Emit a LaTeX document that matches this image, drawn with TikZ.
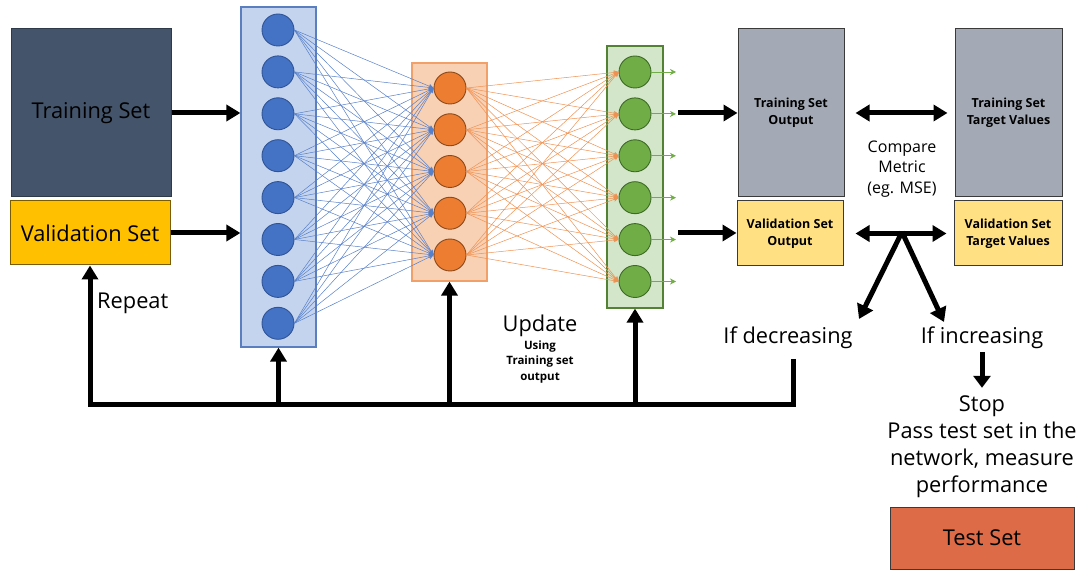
\documentclass[tikz,border=0pt]{standalone}
\usepackage{fontspec}
\setmainfont{Open Sans}
\usetikzlibrary{arrows.meta}
\definecolor{slate}{HTML}{44546A}
\definecolor{slateb}{HTML}{2E3A4A}
\definecolor{valc}{HTML}{FFC000}
\definecolor{valb}{HTML}{7A5C00}
\definecolor{lonef}{HTML}{C4D4EE}
\definecolor{loneb}{HTML}{5A7EC0}
\definecolor{nblue}{HTML}{4472C4}
\definecolor{nblueb}{HTML}{2F5597}
\definecolor{ltwof}{HTML}{F8D0B4}
\definecolor{ltwob}{HTML}{F2A06A}
\definecolor{norange}{HTML}{ED7D31}
\definecolor{norangeb}{HTML}{8A4A1C}
\definecolor{lthreef}{HTML}{D3E6C9}
\definecolor{lthreeb}{HTML}{548235}
\definecolor{ngreen}{HTML}{70AD47}
\definecolor{ngreenb}{HTML}{3D6A26}
\definecolor{grayc}{HTML}{A3AAB5}
\definecolor{grayb}{HTML}{3A3A3A}
\definecolor{lyel}{HTML}{FFE082}
\definecolor{testc}{HTML}{DD6B48}
\newcommand{\mf}{\fontsize{21.8}{27}\selectfont}
\newcommand{\bsf}{\fontsize{12.5}{17}\selectfont\bfseries}
\begin{document}
\begin{tikzpicture}[x=1pt,y=-1pt,
  big/.style={line width=5pt,-{Triangle[length=14pt,width=16pt]}},
  bigd/.style={line width=5pt,{Triangle[length=14pt,width=16pt]}-{Triangle[length=14pt,width=16pt]}},
  box/.style={draw,line width=1pt,inner sep=0pt,align=center},
  layer/.style={draw,line width=1.2pt,inner sep=0pt},
  neuron/.style={circle,draw,line width=0.9pt,minimum size=32pt,inner sep=0pt},
  bluel/.style={nblue!90,line width=0.5pt,-{Stealth[length=5pt,width=4.5pt]}},
  orangel/.style={norange!85,line width=0.5pt,-{Stealth[length=5pt,width=4.5pt]}},
  greenl/.style={ngreen,line width=0.8pt,-{Stealth[length=6pt,width=6pt]}},
  txt/.style={inner sep=0pt,align=center,font=\mf}
]
\useasboundingbox (0,0) rectangle (1080,572);

% input boxes
\node[box,fill=slate,draw=slateb,minimum width=160pt,minimum height=168pt,font=\mf] (train) at (91,113) {Training Set};
\node[box,fill=valc,draw=valb,minimum width=160pt,minimum height=64pt,font=\mf] (val) at (90,233) {Validation Set};

% layers
\node[layer,fill=lonef,draw=loneb,minimum width=75pt,minimum height=340pt] (L1) at (278.5,177) {};
\node[layer,fill=ltwof,draw=ltwob,minimum width=75pt,minimum height=218pt] (L2) at (449.5,172) {};
\node[layer,fill=lthreef,draw=lthreeb,minimum width=56pt,minimum height=262pt] (L3) at (635,177) {};

\foreach \i in {1,...,8}
  \node[neuron,fill=nblue,draw=nblueb] (in\i) at (278,{30+41.9*(\i-1)}) {};
\foreach \j in {1,...,5}
  \node[neuron,fill=norange,draw=norangeb] (hid\j) at (450,{88+41.75*(\j-1)}) {};
\foreach \k in {1,...,6}
  \node[neuron,fill=ngreen,draw=ngreenb] (out\k) at (635,{72+41.9*(\k-1)}) {};

\foreach \i in {1,...,8}
  \foreach \j in {1,...,5}
    \draw[bluel] (in\i.east) -- (hid\j.west);
\foreach \j in {1,...,5}
  \foreach \k in {1,...,6}
    \draw[orangel] (hid\j.east) -- (out\k.west);
\foreach \k in {1,...,6}{
  \coordinate (og\k) at (676,{72+41.9*(\k-1)});
  \draw[greenl] (out\k.east) -- (og\k);
}

% arrows into network
\draw[big] (train.east) -- (L1.west |- train.east);
\draw[big] (val.east) -- (L1.west |- val.east);

% output boxes
\node[box,fill=grayc,draw=grayb,minimum width=106pt,minimum height=168pt,font=\bsf] (tso) at (791,113) {Training Set\\Output};
\node[box,fill=grayc,draw=grayb,minimum width=107pt,minimum height=168pt,font=\bsf] (tst) at (1008.5,113) {Training Set\\Target Values};
\node[box,fill=lyel,draw=grayb,minimum width=106pt,minimum height=65pt,font=\bsf] (vso) at (790,233.5) {Validation Set\\Output};
\node[box,fill=lyel,draw=grayb,minimum width=108pt,minimum height=65pt,font=\bsf] (vst) at (1008,233.5) {Validation Set\\Target Values};

\coordinate (ta) at (678,113);
\coordinate (va) at (678,233);
\draw[big] (ta) -- (tso.west |- ta);
\draw[big] (va) -- (vso.west |- va);

\draw[bigd,shorten <=11pt,shorten >=7pt] (tso.east) -- (tst.west);
\draw[bigd,shorten <=12pt,shorten >=7pt] (vso.east) -- (vst.west);

\node[inner sep=0pt,align=center,font=\fontsize{16}{20.5}\selectfont] (cmp) at (902,169) {Compare\\Metric\\(eg. MSE)};

% decision
\coordinate (apex) at (902,232);
\node[txt] (dec) at (788,338) {If decreasing};
\node[txt] (inc) at (982,338) {If increasing};
\coordinate (decend) at (859,319);
\coordinate (incend) at (944,322);
\draw[line width=5pt,-{Triangle[length=14pt,width=17pt]}] (apex) -- (decend);
\draw[line width=5pt,-{Triangle[length=14pt,width=17pt]}] (apex) -- (incend);

\node[txt,font=\mf] (stop) at (982,447) {Stop\\Pass test set in the\\network, measure\\performance};
\draw[line width=5pt,-{Triangle[length=12pt,width=17pt]},shorten <=3pt,shorten >=8pt] (inc.south) -- (inc.south |- stop.north);

\node[box,fill=testc,draw=grayb,minimum width=184pt,minimum height=62pt,font=\mf] (test) at (982,538) {Test Set};

% feedback
\coordinate (fbtop) at (793,359);
\coordinate (fbbot) at (793,404);
\draw[line width=5pt,line join=miter,-{Triangle[length=14pt,width=16pt]}] (fbtop) |- (val.south |- fbbot) -- (val.south);
\draw[big] (L1.south |- fbbot) -- (L1.south);
\draw[big] (L2.south |- fbbot) -- (L2.south);
\draw[big] (L3.south |- fbbot) -- (L3.south);

\node[txt,anchor=west] (rep) at (97,303) {Repeat};
\node[txt] (upd) at (540,326) {Update};
\node[inner sep=0pt,align=center,font=\fontsize{11.5}{15.5}\selectfont\bfseries] (using) at (540,362) {Using\\Training set\\output};
\end{tikzpicture}
\end{document}
